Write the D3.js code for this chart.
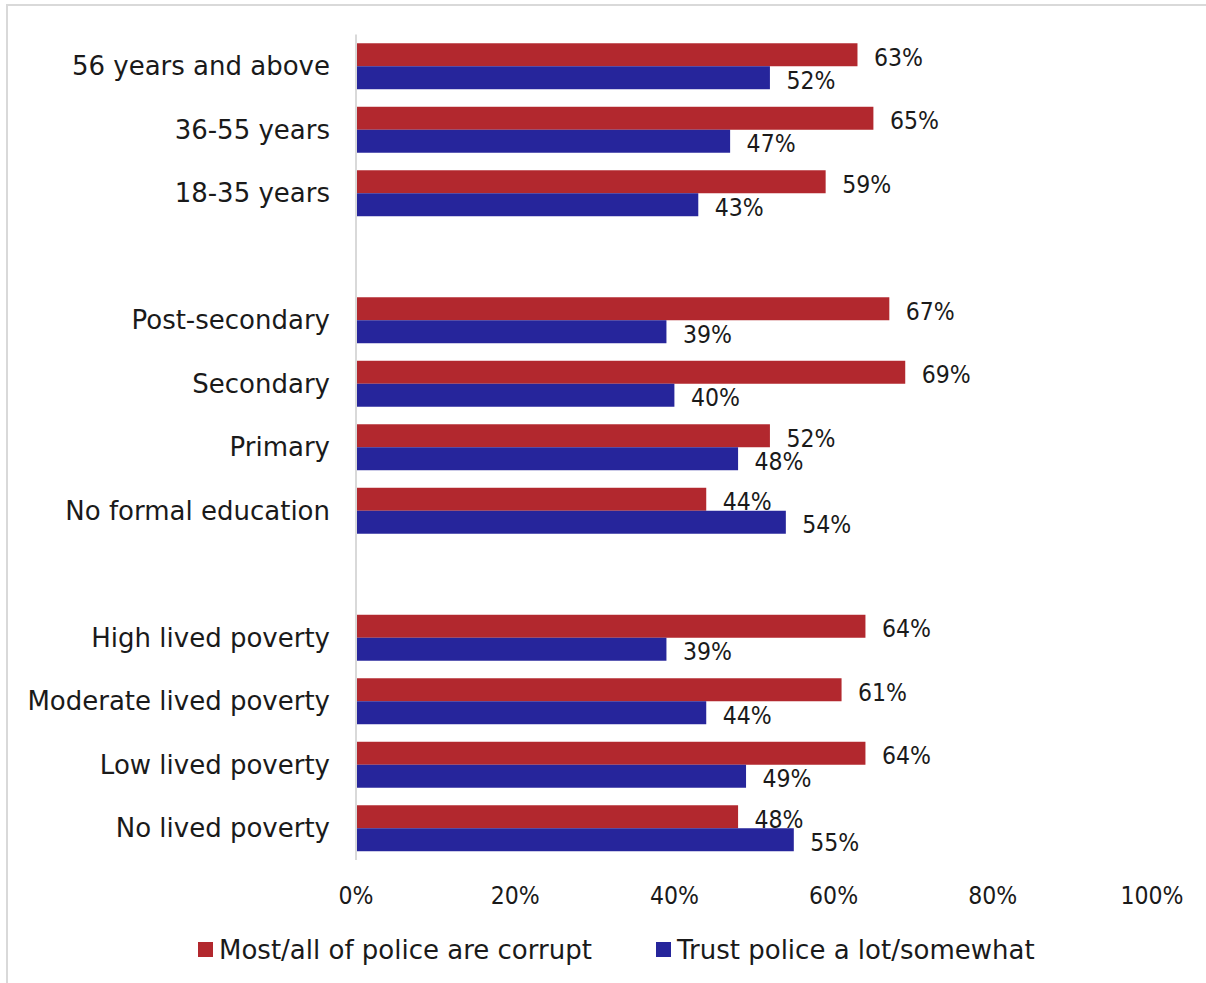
<!DOCTYPE html>
<html><head><meta charset="utf-8">
<script src="https://cdn.jsdelivr.net/npm/d3@7"></script>
<style>
html,body{margin:0;padding:0;background:#fff;}
svg{display:block;}
text{font-family:"DejaVu Sans",sans-serif;fill:#1a1a1a;}
text.pct{font-family:"DejaVu Sans Condensed","DejaVu Sans",sans-serif;}
</style></head>
<body>
<svg id="chart" width="1206" height="983"></svg>
<script>
const categories = ["56 years and above","36-55 years","18-35 years","gap1",
  "Post-secondary","Secondary","Primary","No formal education","gap2",
  "High lived poverty","Moderate lived poverty","Low lived poverty","No lived poverty"];
const corrupt = [63,65,59,null,67,69,52,44,null,64,61,64,48];
const trust   = [52,47,43,null,39,40,48,54,null,39,44,49,55];
const seriesNames = ["Most/all of police are corrupt","Trust police a lot/somewhat"];
const colors = ["#b2282e","#26259b"];
const ticks = [0,20,40,60,80,100];

const svg = d3.select("#chart");
const FS = 26;    // category + legend text
const PFS = 24.5; // percentage text

// frame
svg.append("rect").attr("x",7).attr("y",5).attr("width",1220).attr("height",1000)
  .attr("fill","none").attr("stroke","#d9d9d9").attr("stroke-width",2);

const x = d3.scaleLinear().domain([0,100]).range([356,1152]);
const y = d3.scaleBand().domain(categories).range([34.5,860]).paddingInner(0.276).paddingOuter(0.138);
const sub = d3.scaleBand().domain([0,1]).range([0,y.bandwidth()]);

const rows = categories.map((c,i)=>({c, v:[corrupt[i],trust[i]]}));

// bars
rows.forEach(r=>{
  r.v.forEach((v,k)=>{
    if(v==null) return;
    svg.append("rect").attr("x",x(0)).attr("y",y(r.c)+sub(k))
      .attr("width",x(v)-x(0)).attr("height",sub.bandwidth()).attr("fill",colors[k]);
  });
});

// value labels
rows.forEach(r=>{
  r.v.forEach((v,k)=>{
    if(v==null) return;
    svg.append("text").attr("class","pct").attr("x",x(v)+16.5).attr("y",y(r.c)+sub(k)+sub.bandwidth()/2+2)
      .attr("dy","0.36em").attr("font-size",PFS).text(v+"%");
  });
});

// axis line
svg.append("line").attr("x1",x(0)).attr("x2",x(0)).attr("y1",34.5).attr("y2",860)
  .attr("stroke","#d9d9d9").attr("stroke-width",2);

// category labels
rows.forEach(r=>{
  if(r.c.startsWith("gap")) return;
  svg.append("text").attr("x",330).attr("y",y(r.c)+y.bandwidth()/2)
    .attr("dy","0.35em").attr("text-anchor","end").attr("font-size",FS).text(r.c);
});

// x tick labels
ticks.forEach(t=>{
  svg.append("text").attr("class","pct").attr("x",x(t)).attr("y",895).attr("dy","0.36em")
    .attr("text-anchor","middle").attr("font-size",PFS).text(t+"%");
});

// legend
const legX = [198,656];
seriesNames.forEach((n,k)=>{
  svg.append("rect").attr("x",legX[k]).attr("y",942).attr("width",15).attr("height",15).attr("fill",colors[k]);
  svg.append("text").attr("x",legX[k]+21).attr("y",950).attr("dy","0.35em").attr("font-size",FS).text(n);
});
</script>
</body></html>
